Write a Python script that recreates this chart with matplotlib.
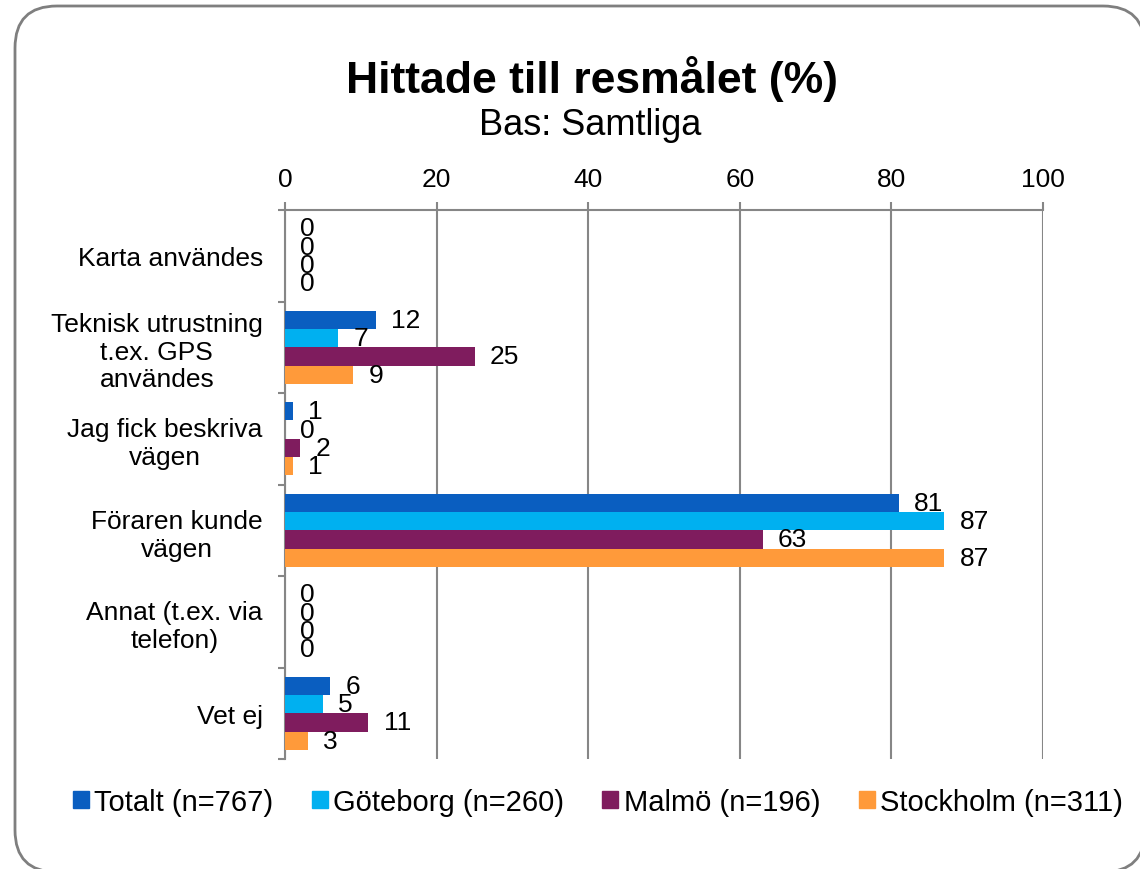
import matplotlib
matplotlib.use("Agg")
import matplotlib.pyplot as plt
import matplotlib.patches as mpatches
import matplotlib.transforms as mtransforms
import numpy as np

plt.rcParams['font.family'] = ['Liberation Sans', 'DejaVu Sans']

# data
categories = ["Karta användes",
              "Teknisk utrustning\nt.ex. GPS\nanvändes",
              "Jag fick beskriva\nvägen",
              "Föraren kunde\nvägen",
              "Annat (t.ex. via\ntelefon)",
              "Vet ej"]
series_names = ["Totalt (n=767)", "Göteborg (n=260)", "Malmö (n=196)", "Stockholm (n=311)"]
totalt = [0, 12, 1, 81, 0, 6]
goteborg = [0, 7, 0, 87, 0, 5]
malmo = [0, 25, 2, 63, 0, 11]
stockholm = [0, 9, 1, 87, 0, 3]
x_ticks = [0, 20, 40, 60, 80, 100]

colors = ["#0A5EC0", "#00B0F0", "#7F1C5E", "#FF9A3A"]
grey = "#868686"

W, H = 1140, 870
fig = plt.figure(figsize=(W / 100, H / 100), dpi=100)

# rounded frame around the whole chart
frame = mpatches.FancyBboxPatch((15, H - 873), 1130, 866,
                                boxstyle="round,pad=0,rounding_size=42",
                                transform=mtransforms.IdentityTransform(),
                                facecolor="white", edgecolor="#7F7F7F", lw=2,
                                zorder=-5)
fig.add_artist(frame)

ax = fig.add_axes([285 / W, 1 - 760 / H, (1043 - 285) / W, (760 - 211) / H])
ax.set_facecolor("none")

y = np.arange(len(categories))
bh = 0.2
all_series = [totalt, goteborg, malmo, stockholm]
for i, vals in enumerate(all_series):
    off = (i - 1.5) * bh
    ax.barh(y + off, vals, height=bh, color=colors[i], zorder=3)
    for yy, v in zip(y + off, vals):
        ax.annotate(str(v), (v, yy), xytext=(11, 0), textcoords="offset points",
                    va="center", ha="left", fontsize=19, zorder=4)

ax.set_xlim(0, 100)
ax.set_ylim(len(categories) - 0.5, -0.5)

ax.xaxis.tick_top()
ax.set_xticks(x_ticks)
ax.set_xticklabels([str(t) for t in x_ticks], fontsize=19)
ax.tick_params(axis="x", direction="out", length=6, width=1.5, color=grey, pad=8)
ax.grid(axis="x", color=grey, lw=1.5, zorder=0)

ax.set_yticks(y)
ax.set_yticklabels(categories, fontsize=19, multialignment="center")
ax.set_yticks(np.arange(-0.5, len(categories), 1), minor=True)
ax.tick_params(axis="y", which="major", length=0, pad=16)
ax.tick_params(axis="y", which="minor", direction="out", length=5, width=1.5, color=grey)

for s in ["right", "bottom"]:
    ax.spines[s].set_visible(False)
for s in ["top", "left"]:
    ax.spines[s].set_color(grey)
    ax.spines[s].set_linewidth(1.5)

fig.text(592 / W, 1 - 93 / H, "Hittade till resmålet (%)", fontsize=32,
         fontweight="bold", ha="center", va="baseline")
fig.text(590 / W, 1 - 135 / H, "Bas: Samtliga", fontsize=26, ha="center", va="baseline")

handles = [mpatches.Patch(color=c) for c in colors]
fig.legend(handles, series_names, loc="center", bbox_to_anchor=(598 / W, 1 - 803 / H),
           ncol=4, frameon=False, fontsize=21, handlelength=0.55, handleheight=0.55,
           handletextpad=0.2, columnspacing=1.3)

fig.savefig("out.png", dpi=100)
